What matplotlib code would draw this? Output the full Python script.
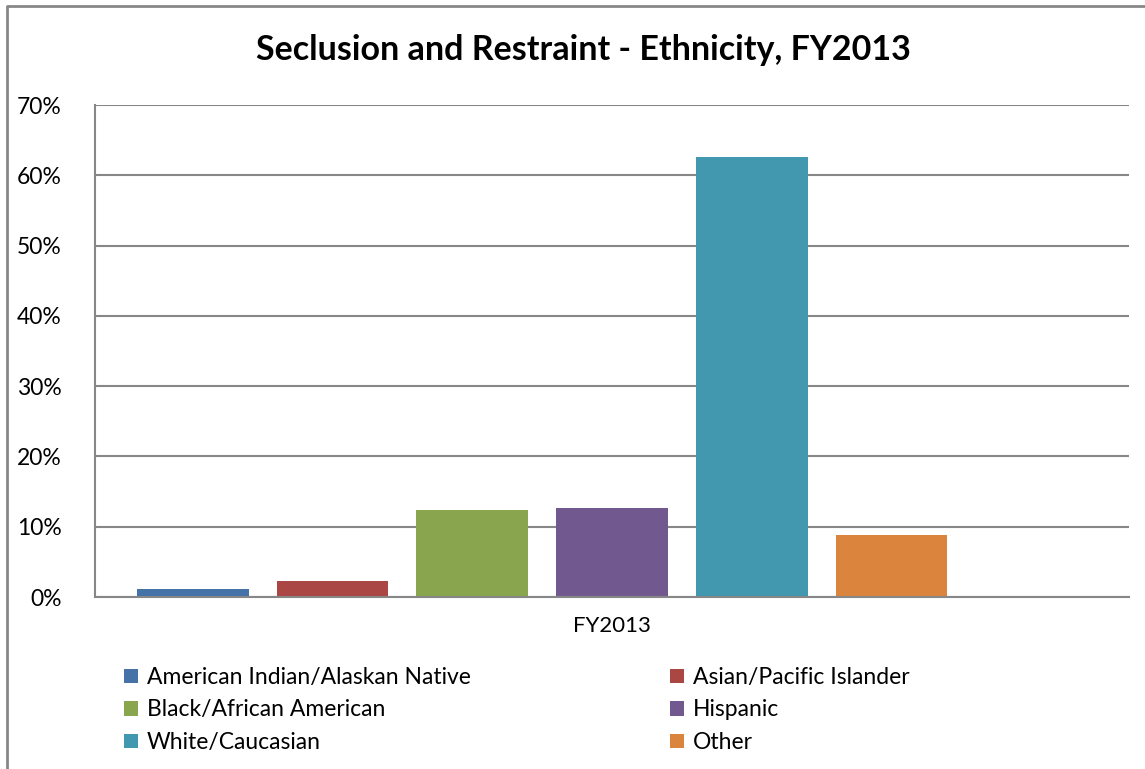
import matplotlib
matplotlib.use('Agg')
import matplotlib.pyplot as plt
from matplotlib.lines import Line2D
from matplotlib.patches import Patch
import numpy as np

plt.rcParams['font.family'] = ['Lato', 'DejaVu Sans']

# data (percent)
groups = ['American Indian/Alaskan Native', 'Asian/Pacific Islander',
          'Black/African American', 'Hispanic', 'White/Caucasian', 'Other']
values = [1.1, 2.3, 12.4, 12.7, 62.6, 8.8]
colors = ['#4572A7', '#AA4643', '#89A54E', '#71588F', '#4198AF', '#DB843D']
yticks = [0, 10, 20, 30, 40, 50, 60, 70]
category = 'FY2013'

fig = plt.figure(figsize=(11.45, 7.69), dpi=100)
# outer chart border, only left and top are inside the picture
fig.lines.append(Line2D([7 / 1145, 7 / 1145, 1.0], [0.0, 1 - 6 / 769, 1 - 6 / 769],
                        transform=fig.transFigure, color='#878787', linewidth=2))

ax = fig.add_axes([95 / 1145, 1 - 597 / 769, (1129 - 95) / 1145, (597 - 105) / 769])

# 7 slots in the cluster, last one empty
for i, v in enumerate(values):
    ax.bar(i, v, width=0.8, color=colors[i], zorder=3)

ax.set_xlim(-0.7, 6.7)
ax.set_ylim(0, 70)
ax.set_yticks(yticks)
ax.set_yticklabels([str(t) + '%' for t in yticks], fontsize=16.5)
ax.set_xticks([3])
ax.set_xticklabels([category], fontsize=16)
ax.tick_params(axis='both', length=0)
ax.tick_params(axis='x', pad=14)
ax.tick_params(axis='y', pad=24)
ax.grid(axis='y', color='#878787', linewidth=1.5, zorder=0)
for s in ['top', 'right']:
    ax.spines[s].set_visible(False)
for s in ['left', 'bottom']:
    ax.spines[s].set_color('#878787')
    ax.spines[s].set_linewidth(1.5)
    ax.spines[s].set_zorder(4)

fig.text(583 / 1145, 1 - 50 / 769, 'Seclusion and Restraint - Ethnicity, FY2013',
         ha='center', va='center', fontsize=24.5, fontweight='bold')

# legend: rows go across, matplotlib fills columns, so reorder
order = [0, 2, 4, 1, 3, 5]
handles = [Patch(facecolor=colors[i], label=groups[i]) for i in order]
fig.legend(handles=handles, ncol=2, loc='upper left',
           bbox_to_anchor=(124 / 1145, 1 - 667 / 769), frameon=False,
           fontsize=16.5, handlelength=0.6, handleheight=0.6, handletextpad=0.4,
           columnspacing=8.7, labelspacing=0.5, borderaxespad=0, borderpad=0)

plt.savefig('out.png', dpi=100)
